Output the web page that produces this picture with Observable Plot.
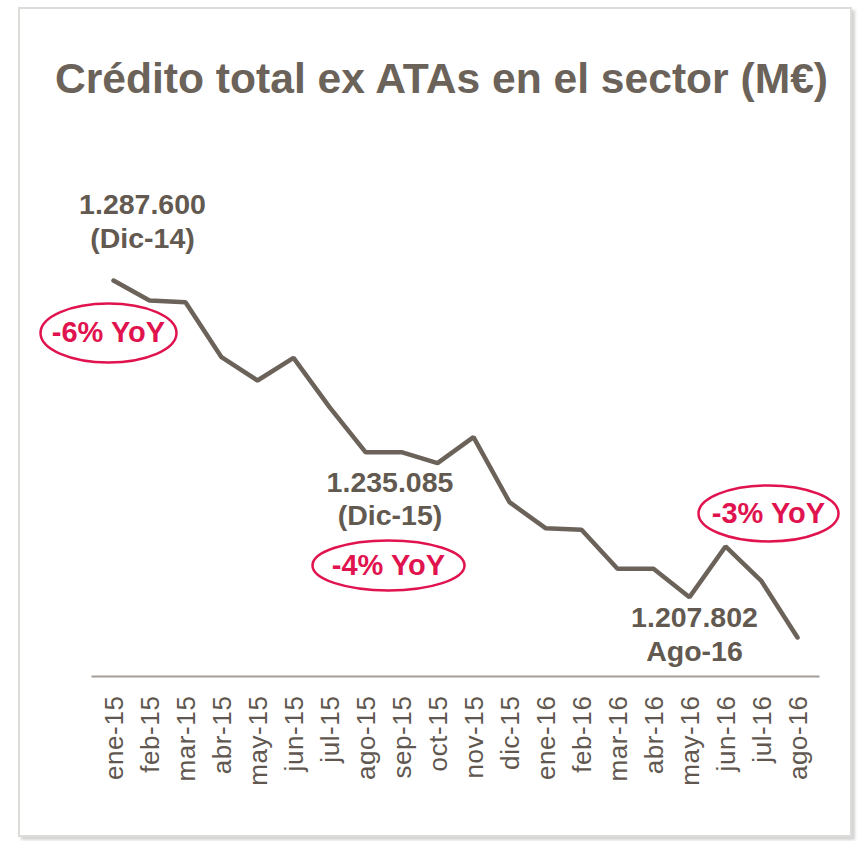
<!DOCTYPE html>
<html>
<head>
<meta charset="utf-8">
<script src="https://cdn.jsdelivr.net/npm/d3@7"></script>
<script src="https://cdn.jsdelivr.net/npm/@observablehq/plot@0.6"></script>
<style>
  html, body { margin: 0; padding: 0; background: #ffffff; }
  #wrap { position: relative; width: 863px; height: 841px; overflow: hidden; font-family: "Liberation Sans", Arial, sans-serif; }
  #title { box-sizing: border-box; height: 120px; padding-top: 57px; padding-left: 20px; text-align: center;
           font-size: 42.6px; line-height: 42px; font-weight: bold; color: #6b625a; white-space: nowrap; }
  #frame { position: absolute; left: 18px; top: 7px; width: 834px; height: 830px; box-sizing: border-box;
           border: 2px solid #dcdcd8; box-shadow: 3px 3px 3px rgba(0,0,0,0.18); pointer-events: none; z-index: 2; }
  #chart svg { display: block; background: transparent !important; }
  #chart g[aria-label="x-axis tick label"] { letter-spacing: 0.6px; }
</style>
</head>
<body>
<div id="wrap">
  <div id="title">Crédito total ex ATAs en el sector (M€)</div>
  <div id="chart"></div>
  <div id="frame"></div>
</div>
<script>
// ---- data ----
const months = ["ene-15","feb-15","mar-15","abr-15","may-15","jun-15","jul-15","ago-15","sep-15","oct-15",
                "nov-15","dic-15","ene-16","feb-16","mar-16","abr-16","may-16","jun-16","jul-16","ago-16"];
const values = [1287600,1283130,1282750,1270460,1265250,1270320,1259280,1249230,1249230,1246770,
                1252580,1238050,1232240,1231880,1223170,1223170,1216820,1228150,1220390,1207802];
const noteMonths = ["ene-15","dic-15","ago-16"];
const noteTexts = ["1.287.600\n(Dic-14)", "1.235.085\n(Dic-15)", "1.207.802\nAgo-16"];
const badgeMonths = ["ene-15","dic-15","jun-16"];
const badgeTexts = ["-6% YoY", "-4% YoY", "-3% YoY"];

const rows = months.map((m, i) => ({month: m, value: values[i]}));
const valueOf = m => values[months.indexOf(m)];

const GRAY = "#6b625a";
const TEXT = "#625950";
const RED = "#e0134f";
const FONT = "Liberation Sans, Arial, sans-serif";

function ellipse(rx, ry) {
  const k = 0.5522847498, kx = k * rx, ky = k * ry;
  return {
    draw(ctx) {
      ctx.moveTo(rx, 0);
      ctx.bezierCurveTo(rx, ky, kx, ry, 0, ry);
      ctx.bezierCurveTo(-kx, ry, -rx, ky, -rx, 0);
      ctx.bezierCurveTo(-rx, -ky, -kx, -ry, 0, -ry);
      ctx.bezierCurveTo(kx, -ry, rx, -ky, rx, 0);
      ctx.closePath();
    }
  };
}

// offsets of annotations relative to their anchor points (styles)
const noteOffsets = [[29, -33], [-119.5, 23.3], [-103, 23.4]];
const badgeShapes = [[-5, 52.5, 68, 29.5], [-121, 63.3, 76, 25], [43, -33, 70, 28]];

const marks = [
  Plot.frame({anchor: "bottom", stroke: "#a39e99", strokeWidth: 2}),
  Plot.axisX({tickSize: 0, tickPadding: 19, tickRotate: -90, fontSize: 26, fill: "#5f5750", label: null, dx: 1}),
  Plot.line(rows, {x: "month", y: "value", stroke: GRAY, strokeWidth: 4.5, strokeLinecap: "round", strokeLinejoin: "miter"})
];

noteMonths.forEach((m, i) => {
  marks.push(Plot.text([m], {
    x: d => d, y: d => valueOf(d), text: () => noteTexts[i],
    dx: noteOffsets[i][0], dy: noteOffsets[i][1], lineAnchor: "bottom", lineHeight: 1.18,
    fontSize: 28.5, fontWeight: "bold", fill: TEXT, textAnchor: "middle"
  }));
});

badgeMonths.forEach((m, i) => {
  const [dx, dy, rx, ry] = badgeShapes[i];
  marks.push(Plot.dot([m], {
    x: d => d, y: d => valueOf(d), symbol: ellipse(rx, ry), r: 5,
    dx, dy, stroke: RED, strokeWidth: 2.5, fill: "white"
  }));
  marks.push(Plot.text([m], {
    x: d => d, y: d => valueOf(d), text: () => badgeTexts[i],
    dx, dy, lineAnchor: "middle", fontSize: 29, fontWeight: "bold", fill: RED, textAnchor: "middle"
  }));
});

const chart = Plot.plot({
  width: 863,
  height: 721,
  marginLeft: 92,
  marginRight: 45,
  marginTop: 0,
  marginBottom: 165,
  style: {fontFamily: FONT, background: "transparent", color: "#5f5750", overflow: "visible"},
  x: {type: "point", domain: months, padding: 0.5, align: 0.5, axis: null},
  y: {domain: [1207802, 1287600], range: [517, 160], axis: null},
  marks
});
document.getElementById("chart").appendChild(chart);
</script>
</body>
</html>
